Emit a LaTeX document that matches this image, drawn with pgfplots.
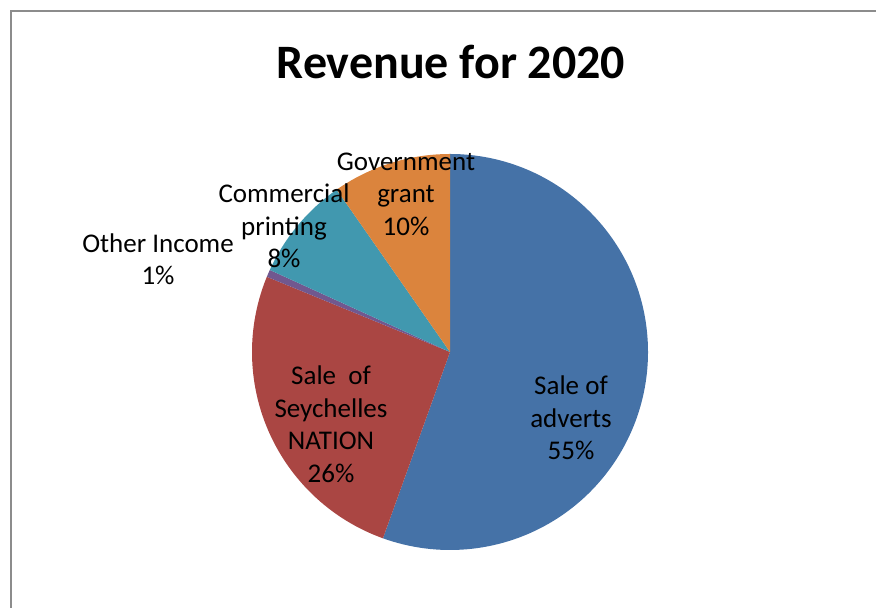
\documentclass[border=0pt]{standalone}
\usepackage{fontspec}
\setmainfont{Carlito}
\usepackage{pgfplots}
\usepackage{pgfplotstable}
\pgfplotsset{compat=1.18}

% Excel 2007 style colours
\definecolor{slice0}{HTML}{4572A7}
\definecolor{slice1}{HTML}{AA4643}
\definecolor{slice2}{HTML}{71588F}
\definecolor{slice3}{HTML}{4198AF}
\definecolor{slice4}{HTML}{DB843D}
\definecolor{frame}{HTML}{8C8C8C}

% share of revenue, clockwise from 12 o'clock
\pgfplotstableread[col sep=comma]{
label,value
Sale of adverts,55.5
Sale of Seychelles NATION,25.7
Other Income,0.6
Commercial printing,8.5
Government grant,9.7
}\revenue

\begin{document}
\begin{tikzpicture}
\begin{axis}[
  hide axis,
  scale only axis,
  width=438pt, height=304pt,
  xmin=0, xmax=876, ymin=0, ymax=608,
  clip=false,
]
\def\angstart{90}
\pgfplotsforeachungrouped \i in {0,...,4}{%
  \pgfplotstablegetelem{\i}{value}\of\revenue
  \pgfmathsetmacro\angend{\angstart-3.6*\pgfplotsretval}
  \edef\slice{\noexpand\fill[slice\i] (axis cs:450,256) -- ([shift={(\angstart:99pt)}]axis cs:450,256)
    arc[start angle=\angstart, end angle=\angend, radius=99pt] -- cycle;}
  \slice
  \global\let\angstart\angend
}

% frame (right and bottom edges fall outside the picture)
\draw[frame, line width=1.1pt] (axis cs:11,0) -- (axis cs:11,597) -- (axis cs:876,597);

\node[font=\fontsize{24}{29}\selectfont\bfseries] at (axis cs:451,546) {Revenue for 2020};

\begin{scope}[every node/.style={align=center, font=\fontsize{13.5}{16.25}\selectfont}]
\node at (axis cs:406,414) {Government\\grant\\10\%};
\node at (axis cs:284,382) {Commercial\\printing\\8\%};
\node at (axis cs:158,349) {Other Income\\1\%};
\node at (axis cs:331,184) {Sale\ \ of\\Seychelles\\NATION\\26\%};
\node at (axis cs:571,190) {Sale of\\adverts\\55\%};
\end{scope}
\end{axis}
\pgfresetboundingbox
\useasboundingbox (current axis.south west) rectangle (current axis.north east);
\end{tikzpicture}
\end{document}
